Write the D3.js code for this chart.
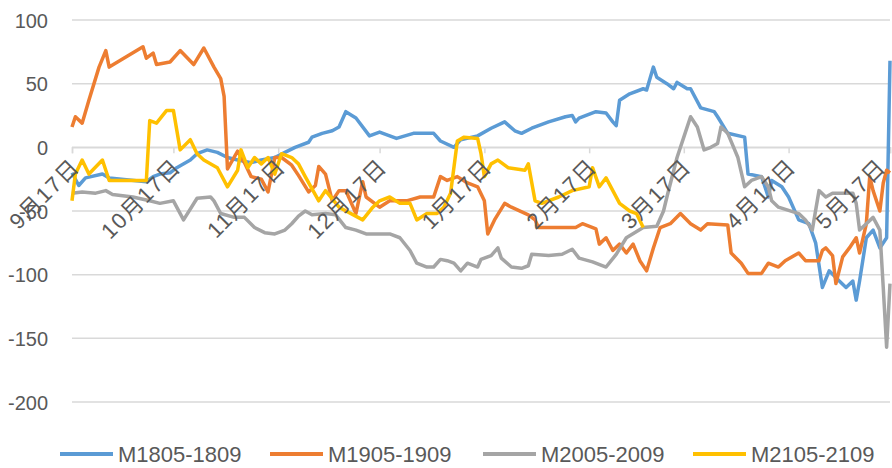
<!DOCTYPE html>
<html><head><meta charset="utf-8">
<script src="https://cdn.jsdelivr.net/npm/d3@7"></script>
<style>body{margin:0;background:#fff}svg{display:block}text{font-family:"Liberation Sans","Noto Sans CJK SC",sans-serif;fill:#595959}</style>
</head><body><svg id="c" width="892" height="468"></svg>
<script>
const seriesNames = ["M1805-1809","M1905-1909","M2005-2009","M2105-2109"];
const seriesColors = ["#5B9BD5","#ED7D31","#A5A5A5","#FFC000"];
const yTicks = [100,50,0,-50,-100,-150,-200];
const xTickDates = ["09-17","10-17","11-17","12-17","01-17","02-17","03-17","04-17","05-17"];
const xTickLabels = ["9月17日","10月17日","11月17日","12月17日","1月17日","2月17日","3月17日","4月17日","5月17日"];

const m1805Dates = ["09-17","09-19","09-21","09-26","09-28","10-09","10-11","10-13","10-16","10-18","10-22","10-24","10-27","10-30","11-02","11-05","11-09","11-12","11-16","11-19","11-22","11-26","11-27","11-30","12-03","12-05","12-07","12-10","12-14","12-17","12-22","12-27","01-02","01-04","01-08","01-10","01-15","01-19","01-23","01-26","01-28","01-31","02-05","02-10","02-12","02-13","02-14","02-19","02-22","02-24","02-25","02-26","03-01","03-05","03-06","03-08","03-09","03-12","03-14","03-15","03-18","03-19","03-22","03-26","03-27","03-30","04-04","04-05","04-09","04-11","04-12","04-15","04-17","04-20","04-23","04-25","04-27","04-29","05-02","05-04","05-06","05-07","05-08","05-10","05-12","05-14","05-16","05-17"];
const m1805Values = [-20,-30,-24,-21,-24,-27,-23,-21,-20,-16,-10,-5,-2,-4,-8,-10,-12,-10,-8,-4,0,4,8,11,13,16,28,23,9,12,7,11,11,5,0,6,9,15,20,13,11,15,20,24,25,20,23,28,27,20,17,37,42,46,45,63,55,50,46,51,46,46,31,28,24,11,8,-21,-23,-39,-26,-31,-39,-57,-60,-75,-110,-97,-105,-110,-105,-120,-105,-71,-65,-79,-71,68];

const m1905Dates = ["09-17","09-18","09-20","09-22","09-25","09-27","09-28","10-08","10-09","10-11","10-12","10-16","10-19","10-23","10-26","10-29","10-31","11-01","11-02","11-05","11-07","11-09","11-12","11-14","11-16","11-18","11-21","11-23","11-26","11-28","11-29","12-01","12-03","12-05","12-07","12-10","12-12","12-13","12-17","12-20","12-25","12-29","01-02","01-04","01-06","01-09","01-12","01-15","01-17","01-18","01-20","01-23","01-25","01-30","02-01","02-02","02-13","02-15","02-19","02-20","02-22","02-24","02-26","02-28","03-02","03-04","03-06","03-08","03-10","03-13","03-16","03-19","03-22","03-24","03-30","03-31","04-03","04-05","04-09","04-11","04-14","04-16","04-20","04-22","04-26","04-27","04-28","04-30","05-01","05-03","05-05","05-07","05-08","05-10","05-11","05-12","05-14","05-15","05-16","05-17"];
const m1905Values = [16,24,19,37,63,76,63,79,70,74,65,67,76,65,78,63,54,40,-17,-3,-12,-23,-25,-35,-8,-8,-14,-22,-35,-30,-15,-21,-42,-34,-34,-52,-27,-39,-47,-42,-42,-39,-39,-23,-26,-23,-28,-31,-42,-68,-57,-44,-47,-53,-57,-63,-63,-60,-64,-76,-71,-81,-76,-83,-76,-89,-97,-79,-63,-60,-52,-60,-65,-60,-61,-83,-91,-99,-99,-91,-94,-89,-83,-89,-89,-81,-79,-85,-107,-86,-79,-71,-83,-60,-23,-34,-50,-28,-18,-20];

const m2005Dates = ["09-17","09-20","09-24","09-27","09-29","10-05","10-10","10-13","10-17","10-20","10-24","10-28","10-29","10-31","11-04","11-07","11-10","11-13","11-16","11-19","11-21","11-23","11-25","11-27","12-01","12-04","12-07","12-10","12-13","12-20","12-23","12-26","12-28","12-31","01-02","01-04","01-06","01-08","01-10","01-12","01-15","01-16","01-19","01-21","01-22","01-25","01-28","01-30","01-31","02-05","02-09","02-12","02-14","02-18","02-22","02-25","02-28","03-05","03-09","03-11","03-12","03-15","03-17","03-19","03-21","03-23","03-25","03-27","03-28","03-30","04-02","04-04","04-06","04-09","04-11","04-12","04-14","04-20","04-22","04-24","04-26","04-28","04-30","05-06","05-07","05-08","05-10","05-12","05-14","05-15","05-16","05-17"];
const m2005Values = [-36,-35,-36,-34,-37,-39,-42,-44,-42,-57,-40,-39,-42,-52,-55,-55,-63,-67,-68,-65,-60,-54,-50,-53,-52,-53,-63,-65,-68,-68,-71,-81,-91,-94,-94,-88,-89,-91,-97,-91,-94,-88,-85,-79,-87,-94,-95,-93,-84,-85,-84,-80,-87,-90,-94,-84,-71,-63,-62,-50,-39,-8,8,24,16,-2,0,3,16,11,-8,-31,-26,-23,-31,-42,-47,-52,-57,-65,-34,-39,-36,-36,-44,-65,-60,-55,-65,-110,-157,-107];

const m2105Dates = ["09-17","09-18","09-20","09-22","09-26","09-28","10-09","10-10","10-12","10-15","10-17","10-19","10-22","10-24","10-26","10-30","11-02","11-05","11-06","11-08","11-10","11-12","11-14","11-16","11-18","11-21","11-23","11-25","11-29","12-01","12-05","12-12","12-15","12-17","12-20","12-23","12-26","12-28","12-31","01-03","01-05","01-07","01-09","01-11","01-15","01-16","01-17","01-19","01-21","01-24","01-29","01-30","02-01","02-03","02-08","02-12","02-17","02-18","02-20","02-22","02-26","03-01","03-03","03-05"];
const m2105Values = [-42,-21,-10,-21,-10,-26,-26,21,19,29,29,-2,6,-5,-10,-16,-31,-18,-2,-16,-8,-13,-8,-21,-5,-8,-13,-23,-42,-34,-47,-57,-47,-42,-39,-44,-44,-57,-52,-52,-47,-36,5,8,7,-5,-23,-13,-10,-16,-18,-13,-42,-44,-39,-34,-31,-16,-31,-24,-44,-50,-52,-63];

const allDates = [m1805Dates,m1905Dates,m2005Dates,m2105Dates];
const allValues = [m1805Values,m1905Values,m2005Values,m2105Values];

function toDate(s){const m=+s.slice(0,2),d=+s.slice(3,5);return new Date(m>=9?2018:2019,m-1,d);}

const W=892;
const svg = d3.select("#c");
const x = d3.scaleTime().domain([toDate("09-17"),toDate("05-17")]).range([72,890]);
const y = d3.scaleLinear().domain([-200,100]).range([402,20]);

// gridlines
svg.append("g").selectAll("line").data(yTicks).join("line")
  .attr("x1",72).attr("x2",890).attr("y1",d=>y(d)).attr("y2",d=>y(d))
  .attr("stroke","#D9D9D9").attr("stroke-width",1.5);

// y axis labels
const yAxis = d3.axisLeft(y).tickValues(yTicks).tickSize(0).tickPadding(0).tickFormat(d=>String(d));
const gy = svg.append("g").attr("transform","translate(48,0)").call(yAxis);
gy.select(".domain").remove();
gy.selectAll("text").attr("font-size","20px").attr("fill","#595959").attr("dy","0.35em");

// x axis at zero
const xAxis = d3.axisBottom(x).tickValues(xTickDates.map(toDate)).tickSize(6).tickFormat((d,i)=>xTickLabels[i]);
const gx = svg.append("g").attr("transform",`translate(0,${y(0)})`).call(xAxis);
gx.select(".domain").attr("stroke","#D9D9D9").attr("stroke-width",1.5);
gx.selectAll(".tick line").attr("stroke","#D9D9D9").attr("stroke-width",1.5);
gx.selectAll("text").remove();

// series lines
const line = d3.line().x(d=>x(d[0])).y(d=>y(d[1]));
seriesNames.forEach((name,i)=>{
  const n=Math.min(allDates[i].length,allValues[i].length);
  const pts=d3.range(n).map(k=>[toDate(allDates[i][k]),allValues[i][k]]);
  svg.append("path").datum(pts).attr("d",line).attr("fill","none")
    .attr("stroke",seriesColors[i]).attr("stroke-width",3.5).attr("stroke-linejoin","round");
});

// x tick labels (rotated); keep the last one inside the frame
svg.append("g").selectAll("text").data(xTickDates).join("text")
  .attr("text-anchor","end").attr("dy","0.7em").attr("font-size","22px").attr("letter-spacing","1.5px")
  .text((d,i)=>xTickLabels[i])
  .each(function(d){
    let tx=x(toDate(d))-2;
    const el=d3.select(this);
    el.attr("transform",`translate(${tx},${y(0)+10}) rotate(-45)`);
    const r=this.getBoundingClientRect();
    if(r.right>W-1){tx-=(r.right-(W-1));el.attr("transform",`translate(${tx},${y(0)+10}) rotate(-45)`);}
  });

// legend
const legX=[60,270,483,693];
const lg=svg.append("g").selectAll("g").data(seriesNames).join("g")
  .attr("transform",(d,i)=>`translate(${legX[i]},454)`);
lg.append("line").attr("x1",0).attr("x2",53).attr("y1",0).attr("y2",0)
  .attr("stroke",(d,i)=>seriesColors[i]).attr("stroke-width",4);
lg.append("text").attr("x",58).attr("y",0).attr("dy","0.36em").attr("font-size","22px").text(d=>d);
</script></body></html>
